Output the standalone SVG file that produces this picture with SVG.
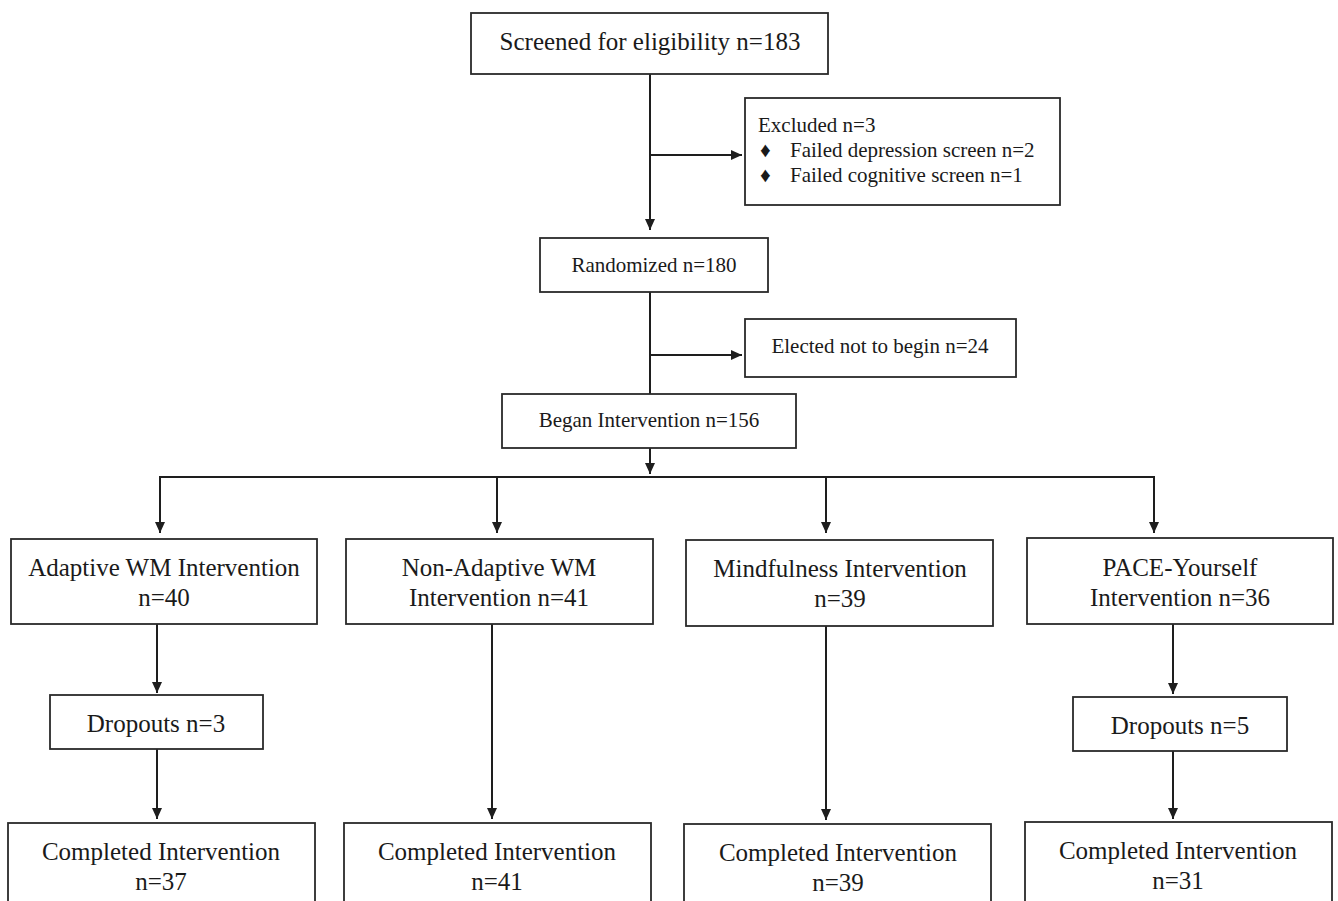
<svg xmlns="http://www.w3.org/2000/svg" width="1338" height="901" viewBox="0 0 1338 901">
<style>
.box{fill:#fff;stroke:#2a2a2a;stroke-width:1.8}
.c{fill:none;stroke:#1e1e1e;stroke-width:2}
text{font-family:"Liberation Serif","Times New Roman",serif;fill:#1a1a1a}
.big{font-size:25px;text-anchor:middle}
.mid{font-size:21px;text-anchor:middle}
.lst{font-size:21px}
</style>
<defs>
<marker id="ah" markerUnits="userSpaceOnUse" markerWidth="11" markerHeight="10" refX="11" refY="5" orient="auto">
<path d="M0,0 L11,5 L0,10 z" fill="#1e1e1e"/>
</marker>
</defs>
<rect width="1338" height="901" fill="#fff"/>
<g id="connectors">
<line class="c" x1="650" y1="74" x2="650" y2="230" marker-end="url(#ah)"/>
<line class="c" x1="650" y1="155" x2="742" y2="155" marker-end="url(#ah)"/>
<line class="c" x1="650" y1="292" x2="650" y2="394"/>
<line class="c" x1="650" y1="355" x2="742" y2="355" marker-end="url(#ah)"/>
<line class="c" x1="650" y1="448" x2="650" y2="474" marker-end="url(#ah)"/>
<polyline class="c" points="160,533 160,477 1154,477 1154,533" marker-end="url(#ah)"/>
<line class="c" x1="160" y1="477" x2="160" y2="533" marker-end="url(#ah)"/>
<line class="c" x1="497" y1="477" x2="497" y2="533" marker-end="url(#ah)"/>
<line class="c" x1="826" y1="477" x2="826" y2="533" marker-end="url(#ah)"/>
<line class="c" x1="157" y1="624" x2="157" y2="693" marker-end="url(#ah)"/>
<line class="c" x1="157" y1="749" x2="157" y2="819" marker-end="url(#ah)"/>
<line class="c" x1="492" y1="624" x2="492" y2="819" marker-end="url(#ah)"/>
<line class="c" x1="826" y1="626" x2="826" y2="820" marker-end="url(#ah)"/>
<line class="c" x1="1173" y1="624" x2="1173" y2="694" marker-end="url(#ah)"/>
<line class="c" x1="1173" y1="751" x2="1173" y2="819" marker-end="url(#ah)"/>
</g>
<g id="screened">
<rect class="box" x="471" y="13" width="357" height="61"/>
<text class="big" x="650" y="50">Screened for eligibility n=183</text>
</g>
<g id="excluded">
<rect class="box" x="745" y="98" width="315" height="107"/>
<text class="lst" x="758" y="132">Excluded n=3</text>
<text class="lst" x="760" y="157" font-size="15">♦</text>
<text class="lst" x="790" y="157">Failed depression screen n=2</text>
<text class="lst" x="760" y="182" font-size="15">♦</text>
<text class="lst" x="790" y="182">Failed cognitive screen n=1</text>
</g>
<g id="randomized">
<rect class="box" x="540" y="238" width="228" height="54"/>
<text class="mid" x="654" y="272">Randomized n=180</text>
</g>
<g id="elected">
<rect class="box" x="745" y="319" width="271" height="58"/>
<text class="mid" x="880" y="353">Elected not to begin n=24</text>
</g>
<g id="began">
<rect class="box" x="502" y="394" width="294" height="54"/>
<text class="mid" x="649" y="427">Began Intervention n=156</text>
</g>
<g id="adaptive">
<rect class="box" x="11" y="539" width="306" height="85"/>
<text class="big" x="164" y="576">Adaptive WM Intervention</text>
<text class="big" x="164" y="606">n=40</text>
</g>
<g id="nonadaptive">
<rect class="box" x="346" y="539" width="307" height="85"/>
<text class="big" x="499" y="576">Non-Adaptive WM</text>
<text class="big" x="499" y="606">Intervention n=41</text>
</g>
<g id="mindfulness">
<rect class="box" x="686" y="540" width="307" height="86"/>
<text class="big" x="840" y="577">Mindfulness Intervention</text>
<text class="big" x="840" y="607">n=39</text>
</g>
<g id="pace">
<rect class="box" x="1027" y="538" width="306" height="86"/>
<text class="big" x="1180" y="576">PACE-Yourself</text>
<text class="big" x="1180" y="606">Intervention n=36</text>
</g>
<g id="dropouts1">
<rect class="box" x="50" y="695" width="213" height="54"/>
<text class="big" x="156" y="732">Dropouts n=3</text>
</g>
<g id="dropouts2">
<rect class="box" x="1073" y="697" width="214" height="54"/>
<text class="big" x="1180" y="734">Dropouts n=5</text>
</g>
<g id="completed1">
<rect class="box" x="8" y="823" width="307" height="100"/>
<text class="big" x="161" y="860">Completed Intervention</text>
<text class="big" x="161" y="890">n=37</text>
</g>
<g id="completed2">
<rect class="box" x="344" y="823" width="307" height="100"/>
<text class="big" x="497" y="860">Completed Intervention</text>
<text class="big" x="497" y="890">n=41</text>
</g>
<g id="completed3">
<rect class="box" x="684" y="824" width="307" height="100"/>
<text class="big" x="838" y="861">Completed Intervention</text>
<text class="big" x="838" y="891">n=39</text>
</g>
<g id="completed4">
<rect class="box" x="1025" y="822" width="307" height="100"/>
<text class="big" x="1178" y="859">Completed Intervention</text>
<text class="big" x="1178" y="889">n=31</text>
</g>
</svg>
